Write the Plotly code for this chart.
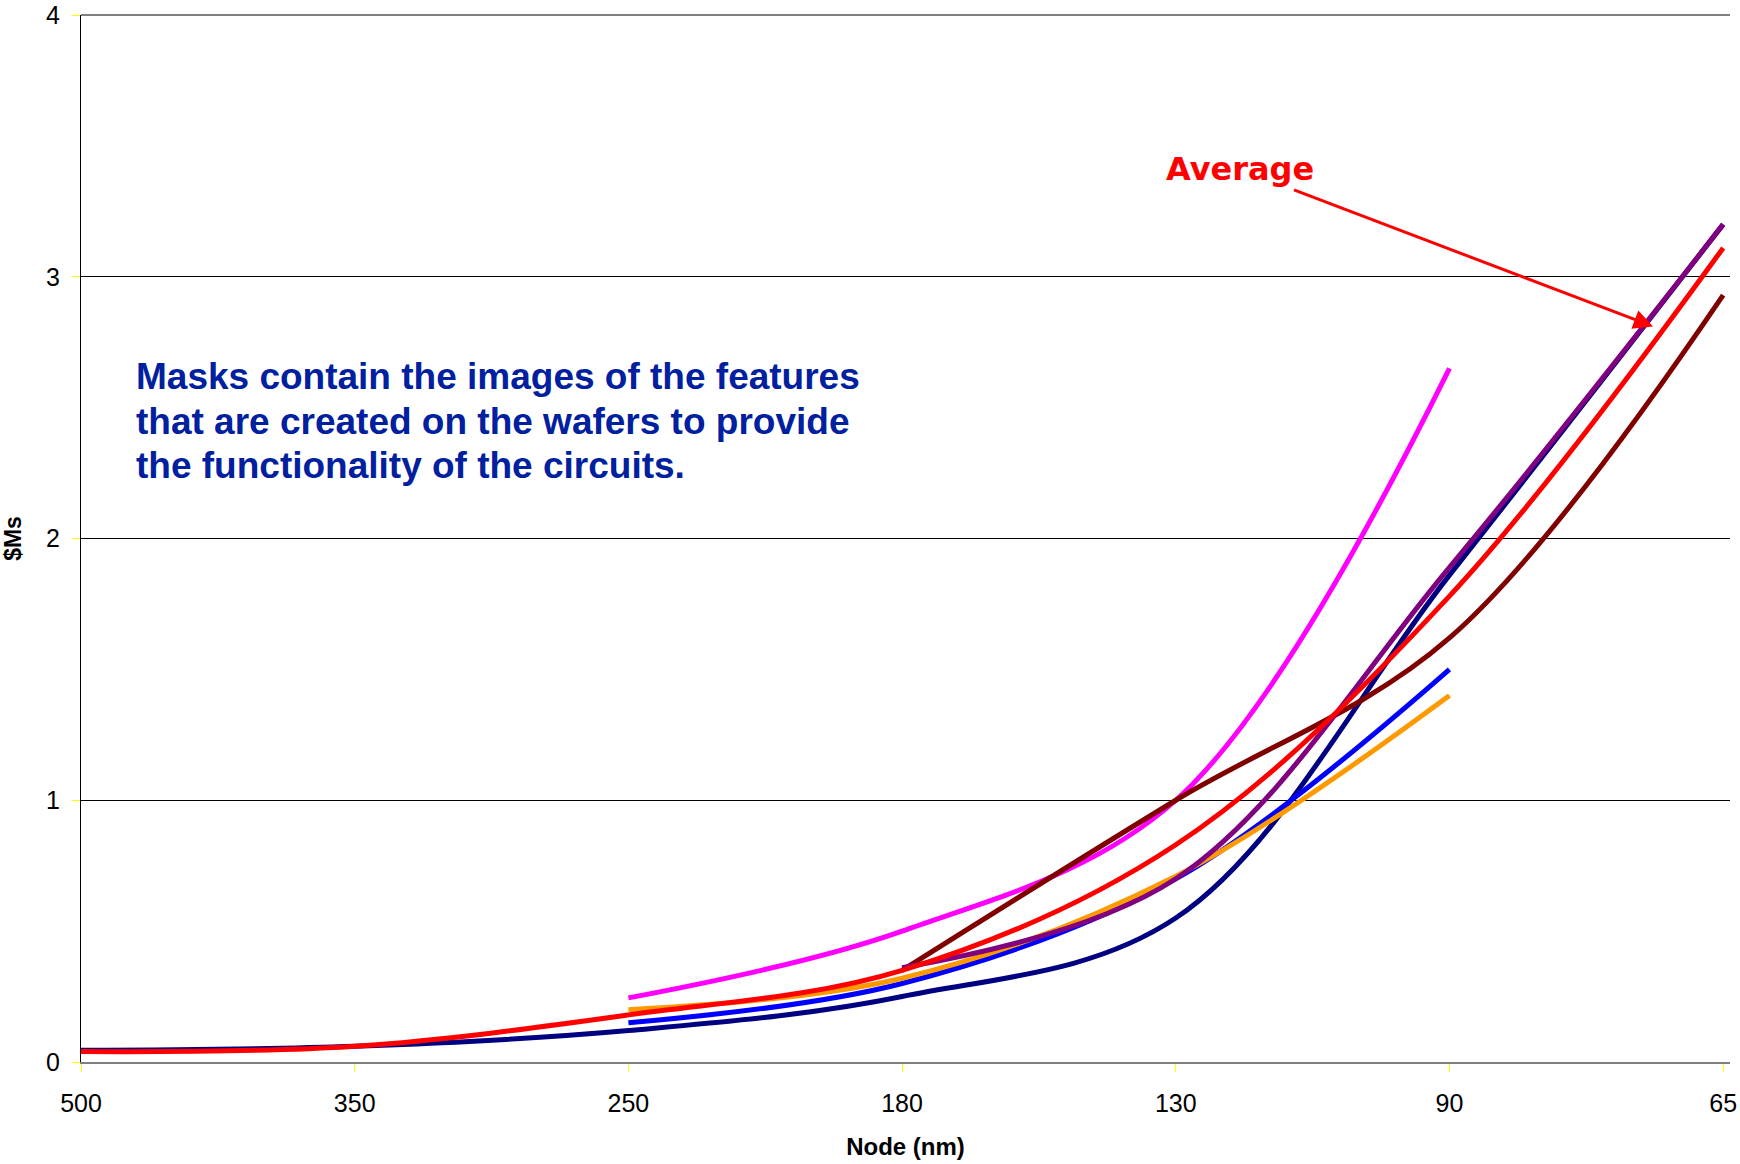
import plotly.graph_objects as go

nodes = ["500", "350", "250", "180", "130", "90", "65"]

navy_vals = [0.045, 0.06, 0.12, 0.25, 0.55, 1.86, 3.20]
magenta_vals = [None, None, 0.245, 0.50, 1.00, 2.65, None]
blue_vals = [None, None, 0.15, 0.30, 0.70, 1.50, None]
orange_vals = [None, None, 0.20, 0.32, 0.71, 1.40, None]
maroon_vals = [None, None, None, 0.35, 1.00, 1.62, 2.93]
purple_vals = [None, None, None, 0.36, 0.70, 1.89, 3.20]
average_vals = [0.04, 0.06, 0.18, 0.35, 0.83, 1.78, 3.11]

note_lines = [
    "Masks contain the images of the features",
    "that are created on the wafers to provide",
    "the functionality of the circuits.",
]

series = [
    ("Series A", navy_vals, "#000080"),
    ("Series B", magenta_vals, "#FF00FF"),
    ("Series C", blue_vals, "#0000FF"),
    ("Series D", orange_vals, "#FF9900"),
    ("Series E", maroon_vals, "#800000"),
    ("Series F", purple_vals, "#800080"),
    ("Average", average_vals, "#FF0000"),
]

fig = go.Figure()
for name, vals, color in series:
    fig.add_trace(go.Scatter(
        x=nodes, y=vals, name=name, mode="lines",
        line=dict(color=color, width=5, shape="spline", smoothing=1.0),
        connectgaps=False, showlegend=False,
    ))

font_family = "Liberation Sans, Arial, sans-serif"

fig.update_layout(
    width=1740, height=1164,
    margin=dict(l=81, r=10, t=15, b=102),
    paper_bgcolor="white", plot_bgcolor="white",
    font=dict(family=font_family, color="black", size=25),
    xaxis=dict(
        type="category", range=[0, 6.025], automargin=False,
        showgrid=False, zeroline=False,
        showline=True, linecolor="#808080", linewidth=2,
        ticks="outside", ticklen=8, tickcolor="#FFFF00", tickwidth=1,
        tickfont=dict(size=25, family=font_family),
        ticklabelstandoff=10, ticklabeloverflow="allow",
        title=dict(text="<b>Node (nm)</b>", font=dict(size=24, family=font_family), standoff=22),
    ),
    yaxis=dict(
        range=[0, 4], dtick=1, tick0=0, automargin=False,
        showgrid=True, gridcolor="black", gridwidth=1,
        zeroline=False,
        showline=True, linecolor="black", linewidth=1,
        ticks="outside", ticklen=8, tickcolor="#FFFF00", tickwidth=1,
        tickfont=dict(size=25, family=font_family),
        ticklabelstandoff=7, ticklabeloverflow="allow",
        title=dict(text="<b>$Ms</b>", font=dict(size=23, family=font_family), standoff=18),
    ),
)

# top boundary line at value 4
fig.add_shape(type="line", xref="paper", yref="paper", x0=0, x1=1, y0=1, y1=1,
              line=dict(color="black", width=1), layer="above")

line_y = [0.655, 0.612, 0.570]
for txt, yy in zip(note_lines, line_y):
    fig.add_annotation(
        text="<b>" + txt + "</b>", xref="paper", yref="paper",
        x=0.032, y=yy, xanchor="left", yanchor="middle", showarrow=False,
        font=dict(size=37, color="#00209F", family=font_family), align="left",
    )

fig.add_annotation(
    text="<b>Average</b>", x=5.744, y=2.81, xref="x", yref="y",
    ax=4.235, ay=3.41, axref="x", ayref="y",
    showarrow=True, arrowhead=2, arrowsize=1.3, arrowwidth=3, arrowcolor="#FF0000",
    font=dict(size=32, color="#FF0000", family="DejaVu Sans, Verdana, sans-serif"),
)

fig.write_html(
    "out.html",
    config={"displayModeBar": False},
    post_script="document.body.style.margin='0px';document.body.style.overflow='hidden';",
)
